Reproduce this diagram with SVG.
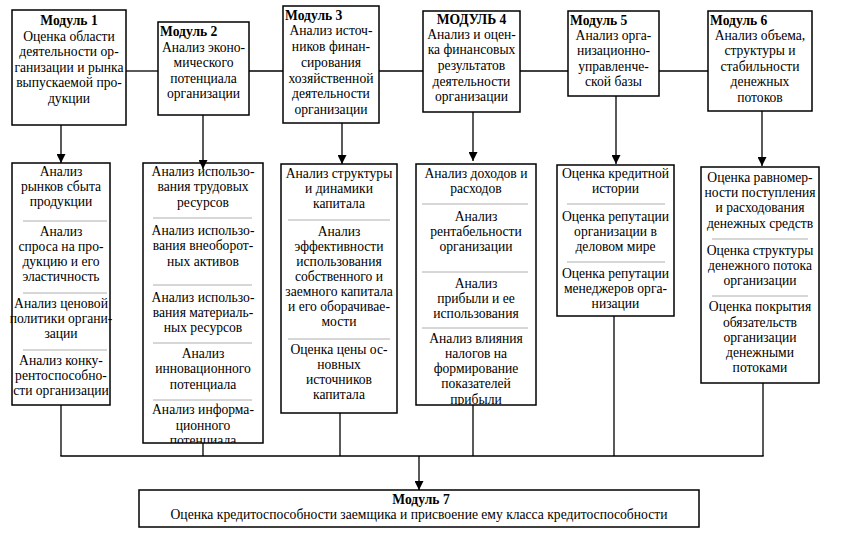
<svg xmlns="http://www.w3.org/2000/svg" width="857" height="534" viewBox="0 0 857 534">
<style>
text{font-family:"Liberation Serif","Times New Roman",serif;font-size:13.6px;fill:#000}
.c{text-anchor:middle}
.b{font-weight:bold}
.box{fill:#fff;stroke:#000;stroke-width:1.5}
.sep{stroke:#999;stroke-width:0.8}
.ln{stroke:#000;stroke-width:1.3;fill:none}
</style>
<defs>
<marker id="ah" viewBox="0 0 10 10" refX="10" refY="5" markerWidth="9" markerHeight="9" markerUnits="userSpaceOnUse" orient="auto">
<path d="M0,0 L10,5 L0,10 Z" fill="#000"/>
</marker>
<clipPath id="clipB2"><rect x="143" y="163" width="120" height="280"/></clipPath>
<clipPath id="clipB4"><rect x="416" y="164" width="120" height="241"/></clipPath>
</defs>

<g id="module1">
<rect class="box" x="12" y="10" width="114" height="115"/>
<text class="c b" x="69" y="25">Модуль 1</text>
<text class="c" x="69" y="40.5">Оценка области</text>
<text class="c" x="69" y="56">деятельности ор-</text>
<text class="c" x="69" y="71.5">ганизации и рынка</text>
<text class="c" x="69" y="87">выпускаемой про-</text>
<text class="c" x="69" y="102.5">дукции</text>
</g>
<g id="module2">
<rect class="box" x="158" y="22" width="91" height="93"/>
<text class="b" x="160" y="36">Модуль 2</text>
<text class="c" x="203.5" y="51.5">Анализ эконо-</text>
<text class="c" x="203.5" y="67">мического</text>
<text class="c" x="203.5" y="82.5">потенциала</text>
<text class="c" x="203.5" y="98">организации</text>
</g>
<g id="module3">
<rect class="box" x="283" y="6" width="96" height="117"/>
<text class="b" x="285" y="19.5">Модуль 3</text>
<text class="c" x="331" y="35">Анализ источ-</text>
<text class="c" x="331" y="51">ников финан-</text>
<text class="c" x="331" y="67">сирования</text>
<text class="c" x="331" y="82.5">хозяйственной</text>
<text class="c" x="331" y="98">деятельности</text>
<text class="c" x="331" y="114">организации</text>
</g>
<g id="module4">
<rect class="box" x="423" y="11" width="97" height="101"/>
<text class="c b" x="471.5" y="23.5">МОДУЛЬ 4</text>
<text class="c" x="471.5" y="38.5">Анализ и оцен-</text>
<text class="c" x="471.5" y="54">ка финансовых</text>
<text class="c" x="471.5" y="69.5">результатов</text>
<text class="c" x="471.5" y="85.5">деятельности</text>
<text class="c" x="471.5" y="101">организации</text>
</g>
<g id="module5">
<rect class="box" x="568" y="11" width="91" height="85"/>
<text class="b" x="570" y="24.5">Модуль 5</text>
<text class="c" x="613.5" y="39.5">Анализ орга-</text>
<text class="c" x="613.5" y="55">низационно-</text>
<text class="c" x="613.5" y="70.5">управленче-</text>
<text class="c" x="613.5" y="86">ской базы</text>
</g>
<g id="module6">
<rect class="box" x="708" y="11" width="104" height="100"/>
<text class="b" x="710" y="24.5">Модуль 6</text>
<text class="c" x="760" y="39.5">Анализ объема,</text>
<text class="c" x="760" y="55">структуры и</text>
<text class="c" x="760" y="70.5">стабильности</text>
<text class="c" x="760" y="86">денежных</text>
<text class="c" x="760" y="102">потоков</text>
</g>

<g id="list1">
<rect class="box" x="12" y="163" width="98" height="242"/>
<text class="c" x="61" y="175.5">Анализ</text>
<text class="c" x="61" y="190.5">рынков сбыта</text>
<text class="c" x="61" y="205.5">продукции</text>
<line class="sep" x1="23" y1="221" x2="107" y2="221"/>
<text class="c" x="61" y="235.5">Анализ</text>
<text class="c" x="61" y="250.5">спроса на про-</text>
<text class="c" x="61" y="265.5">дукцию и его</text>
<text class="c" x="61" y="280.5">эластичность</text>
<line class="sep" x1="23" y1="293" x2="107" y2="293"/>
<text class="c" x="61" y="307.5">Анализ ценовой</text>
<text class="c" x="61" y="322.5">политики органи-</text>
<text class="c" x="61" y="337.5">зации</text>
<line class="sep" x1="23" y1="350" x2="107" y2="350"/>
<text class="c" x="61" y="364.5">Анализ конку-</text>
<text class="c" x="61" y="379.5">рентоспособно-</text>
<text class="c" x="61" y="394.5">сти организации</text>
</g>
<g id="list2">
<rect class="box" x="143" y="163" width="120" height="280"/>
<g clip-path="url(#clipB2)">
<text class="c" x="203" y="176">Анализ использо-</text>
<text class="c" x="203" y="191">вания трудовых</text>
<text class="c" x="203" y="207">ресурсов</text>
<line class="sep" x1="153" y1="218" x2="252" y2="218"/>
<text class="c" x="203" y="234.5">Анализ использо-</text>
<text class="c" x="203" y="249.5">вания внеоборот-</text>
<text class="c" x="203" y="265.5">ных активов</text>
<line class="sep" x1="153" y1="285" x2="252" y2="285"/>
<text class="c" x="203" y="301.5">Анализ использо-</text>
<text class="c" x="203" y="316.5">вания материаль-</text>
<text class="c" x="203" y="331.5">ных ресурсов</text>
<line class="sep" x1="153" y1="343" x2="252" y2="343"/>
<text class="c" x="203" y="357.5">Анализ</text>
<text class="c" x="203" y="372.5">инновационного</text>
<text class="c" x="203" y="388.5">потенциала</text>
<line class="sep" x1="153" y1="400" x2="252" y2="400"/>
<text class="c" x="203" y="413.5">Анализ информа-</text>
<text class="c" x="203" y="429.5">ционного</text>
<text class="c" x="203" y="445">потенциала</text>
</g>
</g>
<g id="list3">
<rect class="box" x="281" y="164" width="116" height="249"/>
<text class="c" x="339" y="177.5">Анализ структуры</text>
<text class="c" x="339" y="192.5">и динамики</text>
<text class="c" x="339" y="207.5">капитала</text>
<line class="sep" x1="288" y1="220" x2="390" y2="220"/>
<text class="c" x="339" y="235.5">Анализ</text>
<text class="c" x="339" y="250.5">эффективности</text>
<text class="c" x="339" y="265.5">использования</text>
<text class="c" x="339" y="280.5">собственного и</text>
<text class="c" x="339" y="295.5">заемного капитала</text>
<text class="c" x="339" y="310.5">и его оборачивае-</text>
<text class="c" x="339" y="325.5">мости</text>
<line class="sep" x1="288" y1="339" x2="390" y2="339"/>
<text class="c" x="339" y="353.5">Оценка цены ос-</text>
<text class="c" x="339" y="368.5">новных</text>
<text class="c" x="339" y="383.5">источников</text>
<text class="c" x="339" y="398.5">капитала</text>
</g>
<g id="list4">
<rect class="box" x="416" y="164" width="120" height="241"/>
<g clip-path="url(#clipB4)">
<text class="c" x="476" y="177.5">Анализ доходов и</text>
<text class="c" x="476" y="192.5">расходов</text>
<line class="sep" x1="422" y1="204" x2="528" y2="204"/>
<text class="c" x="476" y="220.5">Анализ</text>
<text class="c" x="476" y="235.5">рентабельности</text>
<text class="c" x="476" y="250.5">организации</text>
<line class="sep" x1="422" y1="272" x2="528" y2="272"/>
<text class="c" x="476" y="287.5">Анализ</text>
<text class="c" x="476" y="302.5">прибыли и ее</text>
<text class="c" x="476" y="317.5">использования</text>
<line class="sep" x1="422" y1="328" x2="528" y2="328"/>
<text class="c" x="476" y="342.5">Анализ влияния</text>
<text class="c" x="476" y="357.5">налогов на</text>
<text class="c" x="476" y="372.5">формирование</text>
<text class="c" x="476" y="387.5">показателей</text>
<text class="c" x="476" y="403.5">прибыли</text>
</g>
</g>
<g id="list5">
<rect class="box" x="557" y="165" width="117" height="151"/>
<text class="c" x="615.5" y="177.5">Оценка кредитной</text>
<text class="c" x="615.5" y="192.5">истории</text>
<line class="sep" x1="567" y1="204" x2="665" y2="204"/>
<text class="c" x="615.5" y="220.5">Оценка репутации</text>
<text class="c" x="615.5" y="235.5">организации в</text>
<text class="c" x="615.5" y="250.5">деловом мире</text>
<line class="sep" x1="567" y1="262" x2="665" y2="262"/>
<text class="c" x="615.5" y="277.5">Оценка репутации</text>
<text class="c" x="615.5" y="292.5">менеджеров орга-</text>
<text class="c" x="615.5" y="307.5">низации</text>
</g>
<g id="list6">
<rect class="box" x="701" y="167" width="118" height="216"/>
<text class="c" x="760" y="181.5">Оценка равномер-</text>
<text class="c" x="760" y="196.5">ности поступления</text>
<text class="c" x="760" y="211.5">и расходования</text>
<text class="c" x="760" y="227.5">денежных средств</text>
<line class="sep" x1="712" y1="239" x2="808" y2="239"/>
<text class="c" x="760" y="254.5">Оценка структуры</text>
<text class="c" x="760" y="269.5">денежного потока</text>
<text class="c" x="760" y="284.5">организации</text>
<line class="sep" x1="712" y1="296" x2="808" y2="296"/>
<text class="c" x="760" y="310.5">Оценка покрытия</text>
<text class="c" x="760" y="326.5">обязательств</text>
<text class="c" x="760" y="341.5">организации</text>
<text class="c" x="760" y="356.5">денежными</text>
<text class="c" x="760" y="371.5">потоками</text>
</g>

<g id="module7">
<rect class="box" x="139" y="490" width="560" height="37"/>
<text class="c b" x="421" y="504">Модуль 7</text>
<text class="c" x="419" y="518.5">Оценка кредитоспособности заемщика и присвоение ему класса кредитоспособности</text>
</g>

<g id="connectors">
<line class="ln" x1="126" y1="71" x2="158" y2="71"/>
<line class="ln" x1="249" y1="71" x2="283" y2="71"/>
<line class="ln" x1="379" y1="71" x2="423" y2="71"/>
<line class="ln" x1="520" y1="71" x2="568" y2="71"/>
<line class="ln" x1="659" y1="71" x2="708" y2="71"/>
<line class="ln" x1="61" y1="125" x2="61" y2="163" marker-end="url(#ah)"/>
<line class="ln" x1="203" y1="115" x2="203" y2="169" marker-end="url(#ah)"/>
<line class="ln" x1="342" y1="123" x2="342" y2="164" marker-end="url(#ah)"/>
<line class="ln" x1="473" y1="112" x2="473" y2="161" marker-end="url(#ah)"/>
<line class="ln" x1="616" y1="96" x2="616" y2="164" marker-end="url(#ah)"/>
<line class="ln" x1="762" y1="111" x2="762" y2="166" marker-end="url(#ah)"/>
<line class="ln" x1="61" y1="405" x2="61" y2="456"/>
<line class="ln" x1="203" y1="443" x2="203" y2="456"/>
<line class="ln" x1="340" y1="413" x2="340" y2="456"/>
<line class="ln" x1="473" y1="405" x2="473" y2="456"/>
<line class="ln" x1="614" y1="316" x2="614" y2="456"/>
<line class="ln" x1="763" y1="383" x2="763" y2="456"/>
<line class="ln" x1="60.35" y1="456" x2="763.65" y2="456"/>
<line class="ln" x1="419" y1="456" x2="419" y2="490" marker-end="url(#ah)"/>
</g>
</svg>
